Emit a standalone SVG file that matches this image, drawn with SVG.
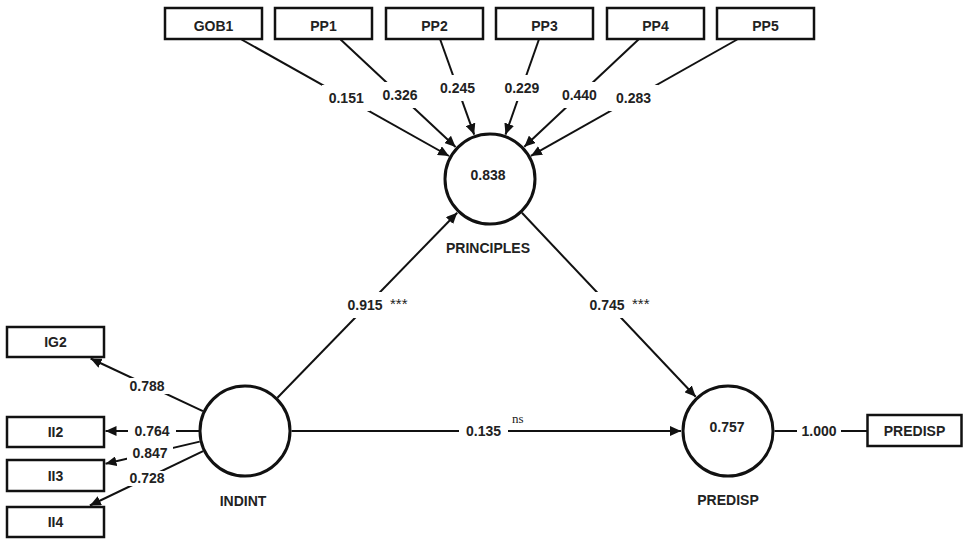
<svg xmlns="http://www.w3.org/2000/svg" width="964" height="539" viewBox="0 0 964 539">
  <style>
    .box { fill: #fff; stroke: #111; stroke-width: 2.5; }
    .lv { fill: #fff; stroke: #111; stroke-width: 3; }
    .edge { stroke: #111; stroke-width: 2; fill: none; }
    .arrow { marker-end: url(#head); }
    .t { font-family: "Liberation Sans", Arial, sans-serif; font-weight: bold; font-size: 14px; fill: #222; text-anchor: middle; }
    .star { font-family: "Liberation Sans", Arial, sans-serif; font-size: 15px; fill: #222; }
    .ns { font-family: "Liberation Serif", "Times New Roman", serif; font-size: 13px; fill: #222; }
    .bg { fill: #fff; }
  </style>
  <defs>
    <marker id="head" markerUnits="userSpaceOnUse" markerWidth="11" markerHeight="10" refX="11" refY="5" orient="auto">
      <path d="M0,0 L11,5 L0,10 z" fill="#111"/>
    </marker>
  </defs>

  <!-- connectors -->
  <g id="connectors">
    <!-- formative indicators into PRINCIPLES -->
    <line class="edge arrow" x1="241.5" y1="39.5" x2="449.0" y2="156.0"/>
    <line class="edge arrow" x1="340.6" y1="39.5" x2="455.6" y2="146.9"/>
    <line class="edge arrow" x1="440.2" y1="39.5" x2="474.2" y2="134.7"/>
    <line class="edge arrow" x1="538.9" y1="39.5" x2="505.5" y2="134.6"/>
    <line class="edge arrow" x1="638.5" y1="39.5" x2="524.3" y2="146.8"/>
    <line class="edge arrow" x1="737.2" y1="39.5" x2="530.9" y2="155.9"/>
    <!-- INDINT reflective indicators -->
    <line class="edge arrow" x1="202.9" y1="411.2" x2="90.6" y2="358.5"/>
    <line class="edge arrow" x1="199.5" y1="431" x2="105.5" y2="431"/>
    <line class="edge arrow" x1="199.7" y1="441.6" x2="105.5" y2="463.8"/>
    <line class="edge arrow" x1="203.1" y1="451.1" x2="89.9" y2="505.5"/>
    <!-- structural paths -->
    <line class="edge arrow" x1="277.4" y1="397.7" x2="457.2" y2="212.7"/>
    <line class="edge arrow" x1="521.9" y1="212.8" x2="695.7" y2="396.8"/>
    <line class="edge arrow" x1="291.5" y1="431" x2="681" y2="431"/>
    <!-- PREDISP single indicator -->
    <line class="edge" x1="774.5" y1="431" x2="867.5" y2="431"/>

    <!-- outer weights -->
    <rect class="bg" x="322" y="85" width="48" height="26"/>
    <text class="t" x="346.2" y="103">0.151</text>
    <rect class="bg" x="376" y="82" width="48" height="26"/>
    <text class="t" x="400.1" y="100">0.326</text>
    <rect class="bg" x="433" y="75" width="49" height="26"/>
    <text class="t" x="457.5" y="93">0.245</text>
    <rect class="bg" x="497" y="75" width="49" height="26"/>
    <text class="t" x="521.9" y="93">0.229</text>
    <rect class="bg" x="555" y="82" width="49" height="26"/>
    <text class="t" x="579.4" y="100">0.440</text>
    <rect class="bg" x="609" y="85" width="49" height="26"/>
    <text class="t" x="633.5" y="103">0.283</text>

    <!-- outer loadings -->
    <rect class="bg" x="124" y="378" width="46" height="16"/>
    <text class="t" x="147" y="391">0.788</text>
    <rect class="bg" x="128" y="424" width="48" height="15"/>
    <text class="t" x="152" y="436">0.764</text>
    <rect class="bg" x="127" y="446" width="46" height="15"/>
    <text class="t" x="150" y="458">0.847</text>
    <rect class="bg" x="124" y="471" width="46" height="15"/>
    <text class="t" x="147" y="483">0.728</text>

    <!-- path coefficients -->
    <rect class="bg" x="341" y="292" width="48" height="26"/>
    <text class="t" x="365" y="310">0.915</text>
    <text class="star" x="390" y="309">***</text>
    <rect class="bg" x="583" y="292" width="48" height="26"/>
    <text class="t" x="607" y="310">0.745</text>
    <text class="star" x="632" y="309">***</text>

    <rect class="bg" x="459" y="423" width="49" height="16"/>
    <text class="t" x="483.5" y="436">0.135</text>
    <text class="ns" x="512" y="423">ns</text>

    <rect class="bg" x="797" y="423" width="44" height="16"/>
    <text class="t" x="819" y="436">1.000</text>
  </g>

  <!-- indicator boxes -->
  <g id="GOB1"><rect class="box" x="165" y="8" width="97" height="31"/><text class="t" x="213.5" y="31">GOB1</text></g>
  <g id="PP1"><rect class="box" x="275" y="8" width="97" height="31"/><text class="t" x="323.5" y="31">PP1</text></g>
  <g id="PP2"><rect class="box" x="386" y="8" width="97" height="31"/><text class="t" x="434.5" y="31">PP2</text></g>
  <g id="PP3"><rect class="box" x="496" y="8" width="97" height="31"/><text class="t" x="544.5" y="31">PP3</text></g>
  <g id="PP4"><rect class="box" x="607" y="8" width="97" height="31"/><text class="t" x="655.5" y="31">PP4</text></g>
  <g id="PP5"><rect class="box" x="717" y="8" width="97" height="31"/><text class="t" x="765.5" y="31">PP5</text></g>

  <g id="IG2"><rect class="box" x="7" y="327" width="97" height="30"/><text class="t" x="55.5" y="347">IG2</text></g>
  <g id="II2"><rect class="box" x="7" y="417" width="97" height="30"/><text class="t" x="55.5" y="437">II2</text></g>
  <g id="II3"><rect class="box" x="7" y="460" width="97" height="31"/><text class="t" x="55.5" y="481">II3</text></g>
  <g id="II4"><rect class="box" x="7" y="507" width="97" height="30"/><text class="t" x="55.5" y="527">II4</text></g>

  <g id="PREDISP-indicator"><rect class="box" x="867.5" y="415" width="94" height="31"/><text class="t" x="914.5" y="436">PREDISP</text></g>

  <!-- latent variables -->
  <g id="PRINCIPLES">
    <circle class="lv" cx="490" cy="179" r="45"/>
    <text class="t" x="488" y="180">0.838</text>
    <text class="t" x="488" y="253">PRINCIPLES</text>
  </g>
  <g id="INDINT">
    <circle class="lv" cx="245" cy="431" r="45"/>
    <text class="t" x="243" y="506">INDINT</text>
  </g>
  <g id="PREDISP">
    <circle class="lv" cx="728" cy="431" r="45"/>
    <text class="t" x="727" y="432">0.757</text>
    <text class="t" x="728" y="505">PREDISP</text>
  </g>
</svg>
